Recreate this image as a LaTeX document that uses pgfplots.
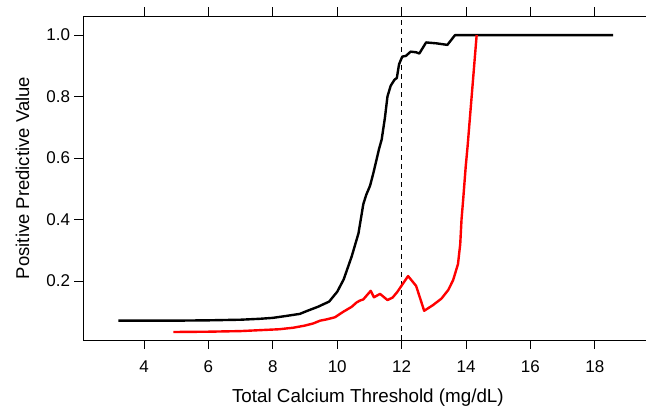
\documentclass[border=0pt]{standalone}
\usepackage{fontspec}
\setmainfont{Liberation Sans}
\usepackage{pgfplots}
\pgfplotsset{compat=1.18}

\begin{document}
\begin{tikzpicture}
\begin{axis}[
    scale only axis,
    width=569.8pt, height=324pt,
    xmin=2.105, xmax=19.8,
    ymin=0.008, ymax=1.062,
    xtick={4,6,8,10,12,14,16,18},
    ytick={0.2,0.4,0.6,0.8,1.0},
    xtick pos=both, ytick pos=left,
    tick align=outside,
    major tick length=8.5pt,
    every tick/.style={black, line width=0.8pt},
    axis line style={line width=0.8pt},
    /pgf/number format/assume math mode=true,
    yticklabel style={/pgf/number format/fixed, /pgf/number format/precision=1,
        /pgf/number format/fixed zerofill, xshift=-1pt},
    xticklabel style={yshift=-9pt},
    tick label style={font=\fontsize{17}{20}\selectfont},
    xlabel={Total Calcium Threshold (mg/dL)},
    ylabel={Positive Predictive Value},
    every axis x label/.style={at={(axis description cs:0.5,-0.194)}, anchor=base,
        font=\fontsize{18.8}{22}\selectfont},
    every axis y label/.style={at={(axis description cs:-0.106,0.5)}, rotate=90,
        anchor=center, font=\fontsize{18.5}{22}\selectfont},
]

% cut-off at 12 mg/dL
\addplot[black, line width=0.9pt, dash pattern=on 5pt off 4pt]
    coordinates {(12,0.008) (12,1.062)};

% black curve
\addplot[black, line width=2.4pt, line join=round] coordinates {
    (3.2,0.071) (4,0.071) (5,0.071) (6,0.072) (7,0.074) (7.6,0.077)
    (8,0.080) (8.4,0.086) (8.84,0.093) (9.05,0.102) (9.4,0.116) (9.75,0.133)
    (10.0,0.165) (10.2,0.205) (10.45,0.280) (10.66,0.355) (10.81,0.45)
    (10.9,0.48) (11.02,0.51) (11.12,0.55) (11.3,0.63) (11.38,0.66)
    (11.48,0.73) (11.56,0.80) (11.66,0.835) (11.78,0.855) (11.85,0.86)
    (11.92,0.905) (12.02,0.93) (12.13,0.932) (12.28,0.946) (12.45,0.944)
    (12.55,0.94) (12.76,0.976) (13.09,0.973) (13.42,0.968) (13.66,1.0)
    (18.57,1.0)
};

% red curve
\addplot[red, line width=2.4pt, line join=round] coordinates {
    (4.91,0.034) (6,0.035) (7,0.037) (7.6,0.040) (8.2,0.043) (8.64,0.048)
    (9.0,0.055) (9.26,0.062) (9.47,0.071) (9.67,0.075) (9.93,0.082)
    (10.19,0.100) (10.45,0.116) (10.6,0.130) (10.7,0.136) (10.81,0.140)
    (11.04,0.168) (11.14,0.147) (11.33,0.158) (11.56,0.138) (11.72,0.146)
    (11.87,0.165) (12.0,0.185) (12.2,0.216) (12.45,0.184) (12.7,0.103)
    (12.98,0.122) (13.24,0.143) (13.45,0.171) (13.6,0.203) (13.75,0.255)
    (13.82,0.32) (13.86,0.40) (13.91,0.463) (13.99,0.572) (14.05,0.64)
    (14.33,1.0)
};

\coordinate (O) at (rel axis cs:0,0);
\end{axis}
\pgfresetboundingbox
\path[use as bounding box] ([shift={(-83pt,-67pt)}]O) rectangle ++(646pt,407pt);
\end{tikzpicture}
\end{document}
